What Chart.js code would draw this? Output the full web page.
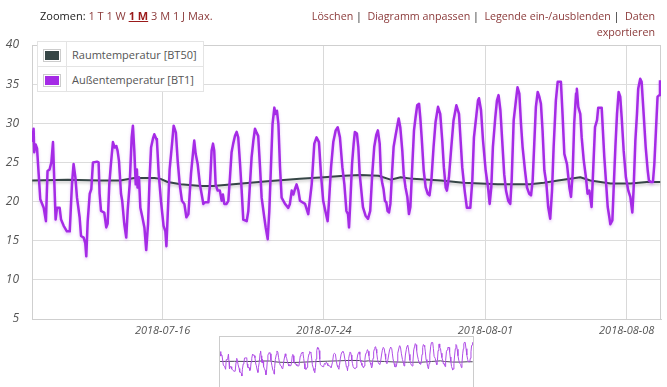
<!DOCTYPE html>
<html><head><meta charset="utf-8">
<script src="https://cdn.jsdelivr.net/npm/chart.js@4.4.1/dist/chart.umd.min.js"></script>
<style>
html,body{margin:0;padding:0;background:#fff;}
body{width:667px;height:387px;position:relative;overflow:hidden;font-family:'Open Sans',sans-serif;}
#main{position:absolute;left:0;top:0;}
#zoom{position:absolute;left:40px;top:8px;font-size:11px;line-height:16px;color:#222;white-space:nowrap;}
#zoom span.l{color:#8b3a3a;}
#zoom span.act{font-weight:bold;text-decoration:underline;color:#9a1a1a;}
#actions{position:absolute;right:12px;top:8px;text-align:right;font-size:10.7px;line-height:16px;color:#222;white-space:nowrap;}
#actions span.l{color:#8b3a3a;}
#legend{position:absolute;left:37px;top:41px;background:#fff;}
#legend table{border-collapse:collapse;}
#legend td{border:1px solid #e4e4e4;height:24px;padding:0;font-size:11px;color:#555;}
#legend td.sw{width:28px;text-align:center;}
#legend td.tx{padding:0 6px 0 5px;}
.box{display:inline-block;border:1px solid #ccc;padding:1px;vertical-align:middle;}
.box div{width:14px;height:9px;}
#nav{position:absolute;left:219px;top:336px;width:253px;height:60px;border:1px solid #ccc;}
#navc{position:absolute;left:0;top:0;}
</style></head>
<body>
<canvas id="main" width="667" height="345"></canvas>
<div id="zoom">Zoomen: <span class="l">1 T</span> <span class="l">1 W</span> <span class="act">1 M</span> <span class="l">3 M</span> <span class="l">1 J</span> <span class="l">Max.</span></div>
<div id="actions"><span class="l">Löschen</span> |&nbsp; <span class="l">Diagramm anpassen</span> |&nbsp; <span class="l">Legende ein-/ausblenden</span> |&nbsp; <span class="l">Daten</span><br><span class="l">exportieren</span></div>
<div id="legend"></div>
<div id="nav"><canvas id="navc" width="253" height="50"></canvas></div>
<script>
// x = day of July 2018 (Aug 1 = 32)
const seriesNames = ['Raumtemperatur [BT50]', 'Außentemperatur [BT1]'];
const seriesColors = ['#364646', '#a52be6'];
const xTickValues = [16, 24, 32, 39];
const xTickLabels = ['2018-07-16', '2018-07-24', '2018-08-01', '2018-08-08'];
const yTickValues = [5, 10, 15, 20, 25, 30, 35, 40];

const raumTemp = [
[9.54,22.7],[11.3,22.8],[12.9,22.7],[13.9,22.7],[14.6,23.0],[15.6,23.0],[15.9,22.9],[16.25,22.5],
[16.9,22.2],[17.9,22.0],[18.5,22.0],[19.5,22.2],[21.2,22.6],[22.8,22.9],[24.0,23.1],[25.0,23.3],
[25.8,23.4],[26.7,23.3],[27.3,22.8],[27.8,23.1],[28.4,22.9],[29.8,22.7],[30.9,22.4],[32.6,22.2],
[34.2,22.2],[34.9,22.4],[35.6,22.7],[36.7,23.1],[37.2,22.7],[38.2,22.3],[39.2,22.3],[40.0,22.5],[40.66,22.5]
];

const aussenTemp = [
[9.53,27.6],[9.61,29.3],[9.64,26.3],[9.71,27.3],[9.78,26.8],[9.94,20.3],[10.11,19.2],[10.22,17.5],[10.30,23.9],[10.40,24.1],
[10.49,25.0],[10.57,27.6],[10.64,22.2],[10.70,17.7],[10.77,19.2],[10.90,19.2],[10.97,17.7],[11.10,16.9],[11.26,16.2],[11.40,16.2],
[11.51,22.2],[11.59,24.8],[11.68,23.1],[11.76,20.5],[11.89,18.0],[11.96,15.6],[12.09,15.4],[12.17,14.7],[12.22,13.0],[12.29,17.5],
[12.39,21.0],[12.47,21.6],[12.55,25.0],[12.75,25.1],[12.83,25.0],[12.88,21.0],[12.95,18.8],[13.11,18.6],[13.21,16.7],[13.28,17.2],
[13.36,22.2],[13.44,24.8],[13.54,27.6],[13.63,26.9],[13.71,27.1],[13.77,26.5],[13.84,25.2],[13.94,21.0],[14.00,20.1],[14.10,17.2],
[14.20,15.4],[14.27,18.8],[14.37,22.2],[14.47,28.2],[14.53,29.7],[14.60,26.5],[14.67,22.2],[14.73,24.1],[14.76,21.8],[14.83,23.1],
[14.90,19.2],[15.00,18.0],[15.10,16.7],[15.19,13.8],[15.28,17.1],[15.36,23.1],[15.43,26.9],[15.52,28.0],[15.59,28.6],[15.69,28.0],
[15.72,27.8],[15.81,23.5],[15.92,20.1],[16.05,16.9],[16.14,16.2],[16.19,14.3],[16.25,18.0],[16.35,24.1],[16.47,27.4],[16.55,29.7],
[16.66,28.8],[16.75,25.2],[16.85,22.2],[16.96,20.1],[17.08,19.7],[17.18,18.0],
[17.28,18.4],[17.41,23.6],[17.52,26.5],[17.57,27.8],[17.64,26.1],[17.74,24.8],[17.85,22.2],[17.94,20.9],[18.02,19.7],[18.10,19.9],
[18.27,19.9],[18.35,22.2],[18.43,26.5],[18.50,27.4],[18.56,26.5],[18.63,22.2],[18.73,21.4],[18.84,21.4],[18.93,20.1],[18.99,20.9],
[19.06,19.7],[19.17,19.7],[19.26,20.1],[19.34,23.1],[19.42,26.3],[19.50,27.4],[19.59,28.4],[19.67,28.9],[19.75,28.2],[19.84,24.8],
[19.92,21.4],[20.00,17.7],[20.17,17.5],[20.25,18.8],[20.33,22.2],[20.41,25.6],[20.50,27.8],[20.58,29.3],[20.66,28.8],[20.74,28.4],
[20.83,24.4],[20.91,20.5],[21.04,18.0],[21.11,16.7],[21.21,15.2],[21.29,18.8],[21.37,24.4],[21.45,29.9],[21.54,32.0],[21.60,31.2],
[21.67,31.6],[21.74,29.9],[21.82,24.4],[21.90,20.5],[22.07,19.7],[22.23,19.2],[22.31,19.7],[22.40,21.4],[22.48,20.9],[22.56,21.6],
[22.64,22.2],[22.73,21.4],[22.81,20.1],[23.06,19.7],[23.22,18.4],[23.39,22.2],[23.52,27.4],[23.63,28.2],[23.75,27.6],[23.85,23.5],
[23.96,20.1],[24.05,19.0],[24.18,17.5],[24.25,20.1],[24.35,24.4],[24.46,27.6],[24.58,29.1],[24.68,29.5],[24.79,28.2],[24.91,24.4],
[25.01,22.2],
[25.11,18.8],[25.19,18.4],[25.24,16.7],[25.30,19.7],[25.39,24.8],[25.47,27.4],[25.53,28.9],[25.63,28.7],[25.70,27.0],[25.77,23.5],
[25.85,21.4],[25.93,19.3],[26.06,18.2],[26.18,17.8],[26.29,18.8],[26.39,23.5],[26.49,27.0],[26.59,28.5],[26.67,29.1],[26.76,27.4],
[26.82,23.5],[26.89,22.3],[26.95,21.6],[27.02,20.1],[27.09,19.9],[27.15,18.8],[27.22,18.6],[27.29,19.7],[27.38,24.0],[27.45,27.0],
[27.55,28.5],[27.62,29.5],[27.70,30.6],[27.78,29.5],[27.88,26.5],[27.95,23.5],[28.04,21.8],[28.13,20.6],[28.21,18.4],[28.28,19.3],
[28.38,24.8],[28.46,29.1],[28.54,30.8],[28.62,32.3],[28.71,32.5],[28.77,30.8],[28.84,28.2],[28.94,24.0],[29.04,21.8],[29.14,21.0],
[29.23,20.8],[29.32,22.7],[29.43,27.0],[29.53,30.2],[29.65,32.1],[29.76,31.2],[29.86,27.8],[29.94,24.4],[30.03,21.8],[30.09,21.4],
[30.19,23.1],[30.31,27.0],[30.42,30.4],[30.56,32.3],[30.69,31.2],[30.77,27.8],[30.85,24.4],[30.97,21.4],[31.08,19.2],[31.25,19.2],
[31.35,22.7],[31.43,28.2],[31.55,31.0],[31.63,32.9],[31.68,33.2],[31.78,31.7],[31.88,27.8],[32.01,24.0],[32.13,21.8],[32.21,19.7],
[32.29,21.8],[32.37,27.0],[32.49,30.8],[32.57,32.9],[32.65,33.6],[32.74,31.7],[32.84,27.4],
[32.93,23.5],[33.02,21.4],[33.13,20.1],[33.23,19.7],[33.30,22.7],[33.40,30.4],[33.51,32.9],[33.59,34.6],[33.68,33.8],[33.76,30.0],
[33.84,27.0],[33.96,24.0],[34.06,21.8],[34.17,21.0],[34.26,20.8],[34.34,22.7],[34.42,27.4],[34.50,32.1],[34.59,34.0],[34.67,33.4],
[34.75,32.5],[34.83,29.1],[34.92,24.0],[35.02,22.3],[35.11,19.3],[35.21,17.8],[35.30,21.4],[35.38,27.0],[35.49,32.9],[35.58,35.3],
[35.74,35.3],[35.82,31.2],[35.91,26.1],[36.04,24.8],[36.16,21.8],[36.24,20.6],[36.32,23.5],[36.40,30.0],[36.49,33.8],[36.53,34.4],
[36.60,32.1],[36.70,31.2],[36.77,28.2],[36.87,25.3],[36.98,23.1],[37.06,21.0],[37.15,21.4],[37.26,19.3],[37.33,23.5],[37.43,29.5],
[37.53,30.4],[37.59,32.0],[37.76,32.0],[37.82,29.1],[37.89,25.7],[37.97,22.7],[38.06,19.3],[38.14,18.0],[38.19,17.1],[38.29,17.6],
[38.35,21.4],[38.44,27.0],[38.52,31.2],[38.60,34.0],[38.68,33.4],[38.75,30.8],[38.85,26.5],[38.96,23.1],[39.08,21.4],[39.18,20.6],
[39.28,18.6],[39.34,21.4],[39.43,27.8],[39.51,31.2],[39.57,34.4],[39.67,35.7],[39.74,35.3],[39.84,31.2],[39.94,27.0],[40.04,24.0],
[40.10,22.7],[40.20,22.5],[40.30,22.5],[40.37,24.8],[40.45,29.1],[40.53,33.4],[40.62,33.6],[40.65,35.5]
];

const xMin = 9.53, xMax = 40.70;
const toPts = arr => arr.map(p => ({x: p[0], y: p[1]}));

Chart.defaults.font.family = "'Open Sans', sans-serif";

const shadowPlugin = {
  id: 'shadow',
  beforeDatasetDraw(chart, args) {
    const ctx = chart.ctx;
    ctx.save();
    ctx.shadowColor = args.index === 0 ? 'rgba(0,0,0,0.22)' : 'rgba(165,43,230,0.25)';
    ctx.shadowBlur = 3;
    ctx.shadowOffsetY = 2;
  },
  afterDatasetDraw(chart) { chart.ctx.restore(); }
};
const framePlugin = {
  id: 'frame',
  beforeDatasetsDraw(chart) {
    const {ctx, chartArea: a} = chart;
    ctx.save();
    ctx.strokeStyle = '#cfcfcf';
    ctx.lineWidth = 1;
    ctx.strokeRect(Math.round(a.left) + 0.5, Math.round(a.top) + 0.5, Math.round(a.right - a.left) - 1, Math.round(a.bottom - a.top));
    ctx.restore();
  }
};

const mainChart = new Chart(document.getElementById('main'), {
  type: 'line',
  data: {
    datasets: [
      {label: seriesNames[0], data: toPts(raumTemp), borderColor: seriesColors[0], borderWidth: 2, order: 1},
      {label: seriesNames[1], data: toPts(aussenTemp), borderColor: seriesColors[1], borderWidth: 2.5, order: 0}
    ]
  },
  options: {
    responsive: false, animation: false,
    elements: {point: {radius: 0}, line: {tension: 0, borderJoinStyle: 'round'}},
    layout: {padding: {left: 0, right: 6, top: 45, bottom: 6}},
    plugins: {legend: {display: false}, tooltip: {enabled: false}},
    scales: {
      x: {
        type: 'linear', min: xMin, max: xMax,
        afterBuildTicks: s => { s.ticks = xTickValues.map(v => ({value: v})); },
        afterFit: s => { s.height = 20; },
        ticks: {callback: (v, i) => xTickLabels[i], autoSkip: false, maxRotation: 0, padding: 5,
                color: '#555', font: {size: 11, style: 'italic'}},
        grid: {color: '#d9d9d9', drawTicks: false},
        border: {color: '#cfcfcf'}
      },
      y: {
        min: 5, max: 40,
        afterBuildTicks: s => { s.ticks = yTickValues.map(v => ({value: v})); },
        afterFit: s => { s.width = 32; },
        ticks: {padding: 13, color: '#555', font: {size: 12, style: 'italic'}},
        grid: {color: '#dcdcdc', drawTicks: false},
        border: {color: '#cfcfcf'}
      }
    }
  },
  plugins: [framePlugin, shadowPlugin]
});

// HTML legend built from datasets
const lg = document.getElementById('legend');
let html = '<table>';
mainChart.data.datasets.forEach(ds => {
  html += '<tr><td class="sw"><span class="box"><div style="background:' + ds.borderColor + '"></div></span></td><td class="tx">' + ds.label + '</td></tr>';
});
lg.innerHTML = html + '</table>';

// Navigator overview
new Chart(document.getElementById('navc'), {
  type: 'line',
  data: {
    datasets: [
      {data: toPts(raumTemp), borderColor: '#4a4458', borderWidth: 1, order: 1},
      {data: toPts(aussenTemp), borderColor: '#b04ee6', borderWidth: 1, order: 0}
    ]
  },
  options: {
    responsive: false, animation: false,
    elements: {point: {radius: 0}, line: {tension: 0}},
    layout: {padding: 0},
    plugins: {legend: {display: false}, tooltip: {enabled: false}},
    scales: {
      x: {type: 'linear', display: false, min: xMin, max: xMax},
      y: {display: false, min: 5.7, max: 39}
    }
  }
});
</script>
</body></html>
